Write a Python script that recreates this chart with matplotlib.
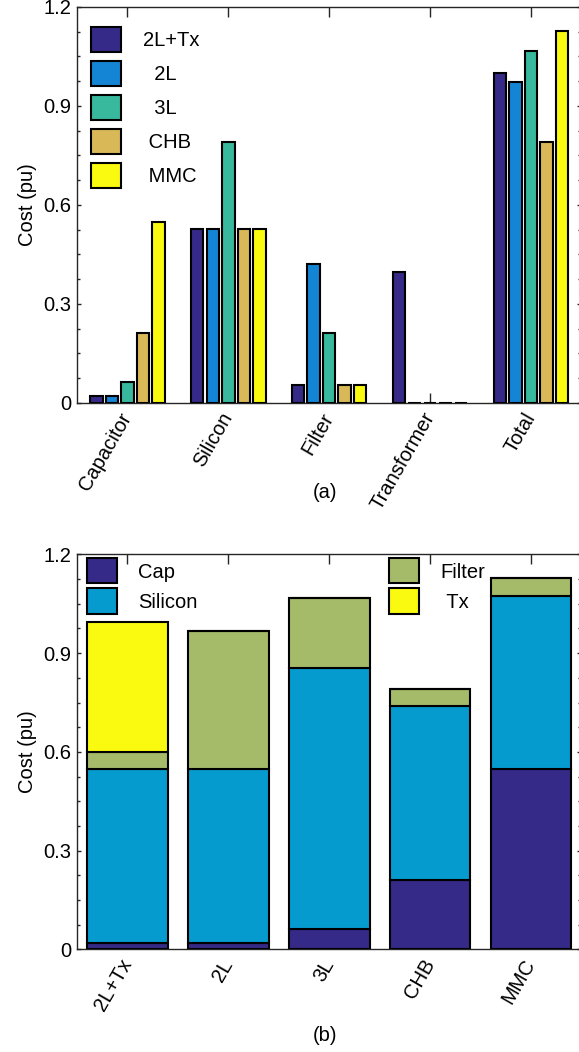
import numpy as np
import matplotlib.pyplot as plt
from matplotlib.ticker import MultipleLocator

plt.rcParams['font.family'] = ['Liberation Sans', 'DejaVu Sans']

# === DATA ===
components = ["Capacitor", "Silicon", "Filter", "Transformer", "Total"]
topologies = ["2L+Tx", "2L", "3L", "CHB", "MMC"]
legend_top = ["2L+Tx", "  2L", "  3L", " CHB", " MMC"]
yticks = [0, 0.3, 0.6, 0.9, 1.2]

# cost per component (pu), one list per topology
cost_2ltx = [0.02, 0.527, 0.053, 0.396, 1.0]
cost_2l = [0.02, 0.527, 0.421, 0.0, 0.972]
cost_3l = [0.063, 0.792, 0.212, 0.0, 1.067]
cost_chb = [0.212, 0.527, 0.053, 0.0, 0.792]
cost_mmc = [0.548, 0.527, 0.053, 0.0, 1.128]

# stacked breakdown per topology
stack_names = ["Cap", "Silicon", "Filter", "Tx"]
cap = [0.02, 0.02, 0.063, 0.212, 0.548]
silicon = [0.527, 0.527, 0.792, 0.527, 0.527]
filt = [0.053, 0.421, 0.212, 0.053, 0.053]
tx = [0.396, 0.0, 0.0, 0.0, 0.0]

top_colors = ['#352a87', '#1485d4', '#38b89c', '#d9b957', '#f9fa0f']
stack_colors = ['#352a87', '#069bcf', '#a5bb6a', '#f9fa0f']
AX_COL = '#262626'
FS = 14.5
EDGE_LW = 1.5


def style_axes(ax, labels):
    x = np.arange(1, len(labels) + 1)
    ax.set_xlim(0.5, len(labels) + 0.5)
    ax.set_ylim(0, 1.2)
    ax.set_xticks(x)
    ax.set_xticklabels(labels, rotation=60, ha='right', va='center',
                       rotation_mode='anchor', fontsize=FS)
    ax.set_yticks(yticks)
    ax.set_yticklabels(['%g' % v for v in yticks], fontsize=FS)
    ax.yaxis.set_minor_locator(MultipleLocator(0.075))
    ax.tick_params(axis='x', direction='in', length=7, width=1, color=AX_COL,
                   top=True, pad=8)
    ax.tick_params(axis='y', which='major', direction='in', length=3, width=1,
                   color=AX_COL, right=True, pad=4)
    ax.tick_params(axis='y', which='minor', direction='in', length=2, width=1,
                   color=AX_COL, right=True)
    for s in ax.spines.values():
        s.set_color(AX_COL)
        s.set_linewidth(1)
    ax.set_ylabel('Cost (pu)', fontsize=FS, labelpad=5)


fig = plt.figure(figsize=(5.79, 10.52), dpi=100)

# (a) grouped bars
ax1 = fig.add_axes([0.133, 0.617, 0.871, 0.3765])
series = [cost_2ltx, cost_2l, cost_3l, cost_chb, cost_mmc]
n = len(series)
group_w = min(0.8, n / (n + 1.5))
step = group_w / n
x = np.arange(1, len(components) + 1)
for i, vals in enumerate(series):
    ax1.bar(x + (i - (n - 1) / 2) * step, vals, width=step * 0.8,
            color=top_colors[i], edgecolor='black', linewidth=EDGE_LW,
            label=legend_top[i], zorder=3)
style_axes(ax1, components)
ax1.legend(loc='upper left', frameon=False, fontsize=FS, handlelength=1.5,
           handleheight=1.54, handletextpad=1.1, labelspacing=0.45,
           borderaxespad=0.0, borderpad=0.0, bbox_to_anchor=(0.028, 0.95))
fig.text(0.562, 0.532, '(a)', ha='center', va='center', fontsize=FS)

# (b) stacked bars
ax2 = fig.add_axes([0.133, 0.0975, 0.871, 0.3755])
bottom = np.zeros(len(topologies))
handles = []
for vals, name, col in zip([cap, silicon, filt, tx], stack_names, stack_colors):
    h = ax2.bar(x, vals, width=0.8, bottom=bottom, color=col,
                edgecolor='black', linewidth=EDGE_LW, label=name, zorder=3)
    handles.append(h)
    bottom = bottom + np.array(vals)
style_axes(ax2, topologies)
leg_kw = dict(frameon=False, fontsize=FS, handlelength=1.5, handleheight=1.54,
              handletextpad=1.05, labelspacing=0.25, borderaxespad=0.0,
              borderpad=0.0)
leg1 = ax2.legend(handles[:2], stack_names[:2], loc='upper left',
                  bbox_to_anchor=(0.02, 0.99), **leg_kw)
ax2.add_artist(leg1)
ax2.legend(handles[2:], [stack_names[2], ' ' + stack_names[3]],
           loc='upper left', bbox_to_anchor=(0.619, 0.99), **leg_kw)
fig.text(0.562, 0.016, '(b)', ha='center', va='center', fontsize=FS)

fig.savefig('out.png', dpi=100)
